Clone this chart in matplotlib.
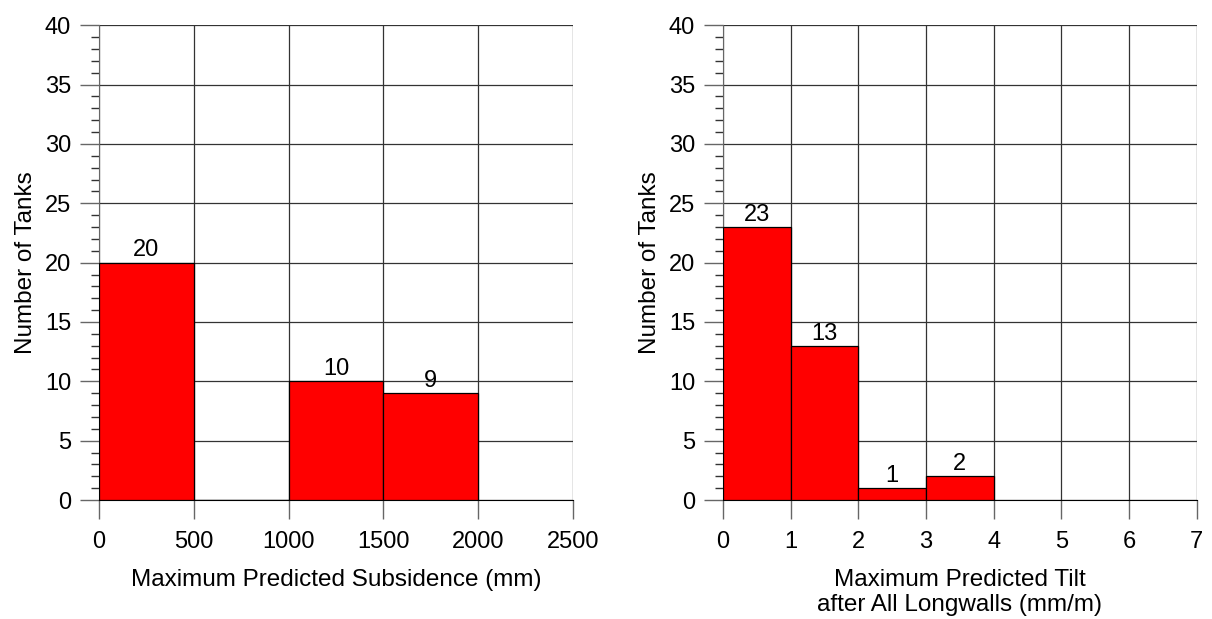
import matplotlib.pyplot as plt
import numpy as np

plt.rcParams['font.family'] = ['Liberation Sans', 'DejaVu Sans']

# subsidence histogram
subs_edges = [0, 500, 1000, 1500, 2000]
subs_counts = [20, 0, 10, 9]

# tilt histogram
tilt_edges = [0, 1, 2, 3, 4]
tilt_counts = [23, 13, 1, 2]


def draw_hist(ax, edges, counts, xmax, xstep, xlabel):
    lefts = edges[:-1]
    widths = np.diff(edges)
    ax.bar(lefts, counts, width=widths, align='edge', color='#ff0000',
           edgecolor='black', linewidth=0.9, zorder=3)
    for x, w, c in zip(lefts, widths, counts):
        if c > 0:
            ax.text(x + w / 2, c + 0.1, str(c), ha='center', va='bottom',
                    fontsize=17, zorder=4)
    ax.set_xlim(0, xmax)
    ax.set_ylim(0, 40)
    ax.set_xticks(np.arange(0, xmax + xstep / 2, xstep))
    ax.set_yticks(np.arange(0, 41, 5))
    ax.set_yticks(np.arange(0, 41, 1), minor=True)
    ax.grid(True, which='major', color='#333333', linewidth=0.9, zorder=0)
    for s in ['top', 'right']:
        ax.spines[s].set_visible(False)
    ax.spines['left'].set_color('#666666')
    ax.spines['bottom'].set_color('black')
    ax.tick_params(axis='both', which='major', labelsize=17, length=14,
                   width=1, color='#666666', pad=8)
    ax.tick_params(axis='y', which='major', pad=6)
    ax.tick_params(axis='y', which='minor', length=6, width=1, color='#333333')
    ax.set_ylabel('Number of Tanks', fontsize=17.5, labelpad=6)
    ax.set_xlabel(xlabel, fontsize=17.5, labelpad=12, linespacing=1.15)


fig = plt.figure(figsize=(12.12, 6.19), dpi=100)
ax1 = fig.add_axes([0.0817, 0.1922, 0.391, 0.767])
ax2 = fig.add_axes([0.5965, 0.1922, 0.391, 0.767])

draw_hist(ax1, subs_edges, subs_counts, 2500, 500,
          'Maximum Predicted Subsidence (mm)')
draw_hist(ax2, tilt_edges, tilt_counts, 7, 1,
          'Maximum Predicted Tilt\nafter All Longwalls (mm/m)')

fig.savefig('out.png', dpi=100)
